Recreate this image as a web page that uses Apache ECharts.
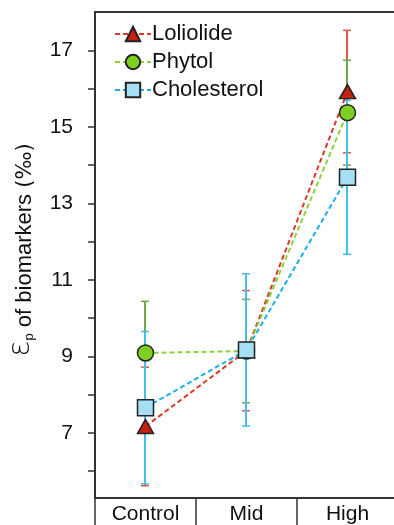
<!DOCTYPE html>
<html><head><meta charset="utf-8">
<script src="https://cdn.jsdelivr.net/npm/echarts@6/dist/echarts.min.js"></script>
<style>html,body{margin:0;padding:0;background:#fff}#c{width:394px;height:525px}</style>
</head><body><div id="c"></div>
<script>
const categories = ['Control', 'Mid', 'High'];
const seriesNames = ['Loliolide', 'Phytol', 'Cholesterol'];
const loliolide = [7.17, 9.15, 15.92];
const loliolideErr = [1.55, 1.57, 1.60];
const phytol = [9.09, 9.14, 15.37];
const phytolErr = [1.35, 1.35, 1.37];
const cholesterol = [7.66, 9.17, 13.68];
const cholesterolErr = [1.99, 1.99, 2.01];
const yTicks = [6, 7, 8, 9, 10, 11, 12, 13, 14, 15, 16, 17];
const yLabels = [7, 9, 11, 13, 15, 17];

const styles = [
  {line: '#d93a2b', fill: '#c41f10', err: '#db5a4c', symbol: 'triangle', size: [16, 14]},
  {line: '#8fd13c', fill: '#7dd020', err: '#6fa84a', symbol: 'circle', size: 16},
  {line: '#1eaee8', fill: '#a6def4', err: '#45bdeb', symbol: 'rect', size: 16}
];
const values = [loliolide, phytol, cholesterol];
const errs = [loliolideErr, phytolErr, cholesterolErr];
const FONT = 'Liberation Sans, Arial, sans-serif';

const series = [];
values.forEach((v, k) => {
  series.push({
    type: 'custom',
    name: seriesNames[k] + ' error',
    z: 2 + k,
    silent: true,
    data: v.map((y, i) => [i, y - errs[k][i], y + errs[k][i]]),
    encode: {x: 0, y: [1, 2]},
    renderItem: function (params, api) {
      const lo = api.coord([api.value(0), api.value(1)]);
      const hi = api.coord([api.value(0), api.value(2)]);
      const x = Math.floor(lo[0] + 0.25), w = 4;
      const st = {stroke: styles[k].err, lineWidth: 2};
      const cap = {stroke: styles[k].err, lineWidth: 1.5};
      return {type: 'group', children: [
        {type: 'line', shape: {x1: x, y1: lo[1], x2: x, y2: hi[1]}, style: st},
        {type: 'line', shape: {x1: x - w, y1: lo[1], x2: x + w, y2: lo[1]}, style: cap},
        {type: 'line', shape: {x1: x - w, y1: hi[1], x2: x + w, y2: hi[1]}, style: cap}
      ]};
    }
  });
});
values.forEach((v, k) => {
  series.push({
    type: 'line',
    name: seriesNames[k],
    z: 10 + k,
    data: v,
    symbol: styles[k].symbol,
    symbolSize: styles[k].size,
    lineStyle: {color: styles[k].line, width: 2, type: [5, 3]},
    itemStyle: {color: styles[k].fill, borderColor: '#222', borderWidth: 1.5},
    emphasis: {disabled: true}
  });
});

const chart = echarts.init(document.getElementById('c'));
chart.setOption({
  animation: false,
  backgroundColor: '#fff',
  grid: {left: 95, right: -4, top: 12, bottom: 27, show: true, borderColor: '#333', borderWidth: 2,
         containLabel: false, outerBoundsMode: 'none'},
  legend: {
    data: seriesNames,
    left: 109, top: 18, orient: 'vertical',
    itemWidth: 36, itemHeight: 18, itemGap: 6,
    textStyle: {fontSize: 22, color: '#111', fontFamily: FONT, padding: [0, 0, 0, -4]}
  },
  xAxis: {
    type: 'category',
    data: categories,
    boundaryGap: true,
    axisLine: {lineStyle: {color: '#333', width: 2}},
    axisTick: {show: true, interval: 0, length: 30, lineStyle: {color: '#333', width: 1.5}},
    axisLabel: {fontSize: 21, color: '#111', margin: 6, fontFamily: FONT},
    splitLine: {show: false}
  },
  yAxis: {
    type: 'value',
    min: 5.3, max: 18,
    name: '{eps|ε}{sub|p}{n| of biomarkers }{s|(‰)}',
    nameLocation: 'middle', nameRotate: 90, nameGap: 59,
    nameTextStyle: {
      fontFamily: FONT, color: '#111', padding: [0, 0, 0, 10],
      rich: {
        eps: {fontSize: 30, color: '#111', fontFamily: 'DejaVu Sans, sans-serif', fontWeight: 'lighter', verticalAlign: 'bottom', lineHeight: 30},
        sub: {fontSize: 13, color: '#111', fontFamily: FONT, verticalAlign: 'bottom', lineHeight: 24},
        n: {fontSize: 22, color: '#111', fontFamily: FONT, verticalAlign: 'bottom', lineHeight: 30},
        s: {fontSize: 21, color: '#111', fontFamily: 'DejaVu Sans, sans-serif', verticalAlign: 'bottom', lineHeight: 32}
      }
    },
    axisLine: {show: true, lineStyle: {color: '#333', width: 2}},
    axisTick: {show: true, length: 7, customValues: yTicks, lineStyle: {color: '#333', width: 1.5}},
    axisLabel: {fontSize: 21, color: '#111', margin: 22, customValues: yLabels, fontFamily: FONT},
    splitLine: {show: false}
  },
  series: series
});
</script></body></html>
